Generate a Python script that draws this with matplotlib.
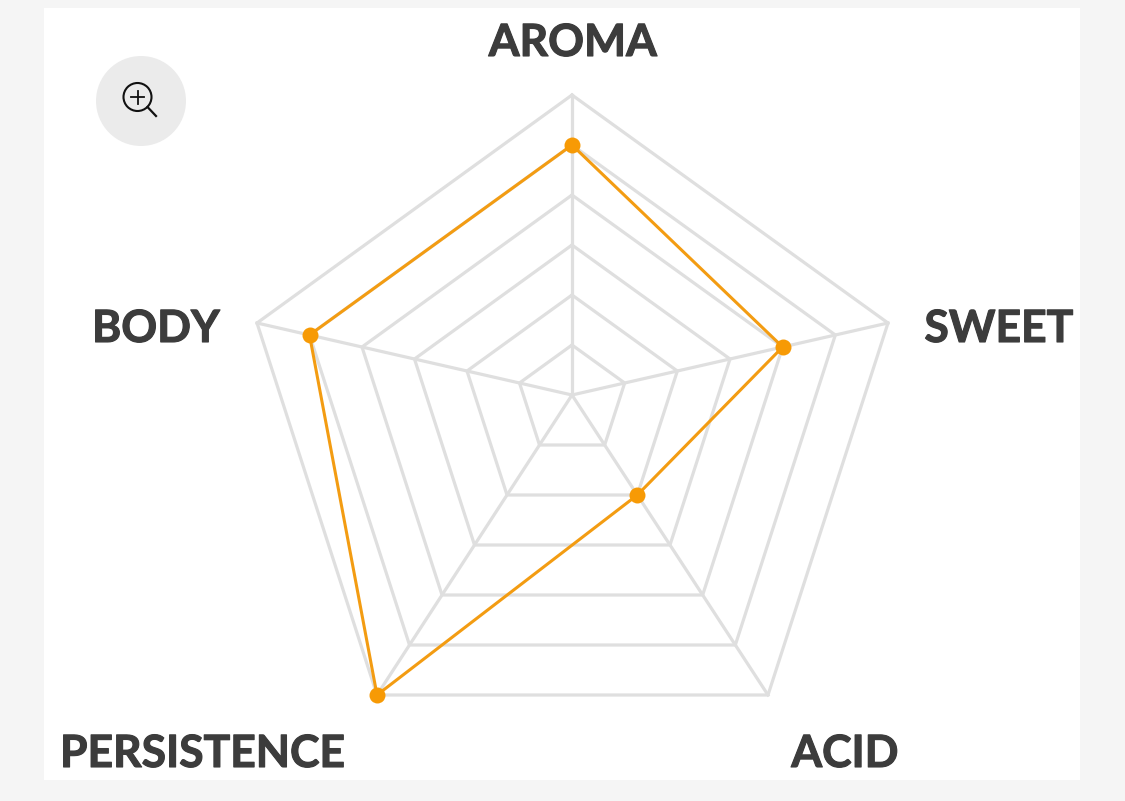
'''Pentagon radar chart of a tasting profile'''

import matplotlib
matplotlib.use("Agg")
import matplotlib.pyplot as plt
import matplotlib.patheffects as pe
from matplotlib.patches import Circle, Rectangle
import numpy as np

categories = ["AROMA", "SWEET", "ACID", "PERSISTENCE", "BODY"]
values = [5, 4, 2, 6, 5]
levels = [1, 2, 3, 4, 5, 6]

# layout: pixel position of the centre and of each axis tip at the top level
centre = np.array([572.0, 395.0])
tips = np.array([[572, 95], [888, 323], [768, 695], [377, 695], [257, 323]], dtype=float)
label_pos = [(573, 43), (999, 329), (845, 754), (203, 754), (156, 329)]

def to_xy(vals):
    vals = np.asarray(vals, dtype=float)[:, None]
    return centre + (tips - centre) * vals / max(levels)

fig = plt.figure(figsize=(11.25, 8.01), dpi=100, facecolor="#f5f5f5")
ax = fig.add_axes([0, 0, 1, 1])
ax.set_xlim(0, 1125)
ax.set_ylim(801, 0)
ax.axis("off")

ax.add_patch(Rectangle((44, 8), 1036, 772, fc="white", ec="none", zorder=0))

# grid
grid_col = "#dfdfdf"
for tip in tips:
    ax.plot([centre[0], tip[0]], [centre[1], tip[1]], color=grid_col, lw=2.3, zorder=1)
for lev in levels:
    ring = to_xy([lev] * len(categories))
    ring = np.vstack([ring, ring[0]])
    ax.plot(ring[:, 0], ring[:, 1], color=grid_col, lw=2.3, zorder=1, solid_joinstyle="miter")

# series
pts = to_xy(values)
closed = np.vstack([pts, pts[0]])
ax.plot(closed[:, 0], closed[:, 1], color="#f39c12", lw=2.2, zorder=3)
ax.plot(pts[:, 0], pts[:, 1], "o", color="#f79a05", ms=11.5, mew=0, zorder=4)

# labels
for name, (x, y) in zip(categories, label_pos):
    ax.text(x, y, name, family="Lato", weight="bold", fontsize=32, color="#3c3c3c",
            ha="center", va="center", zorder=5,
            path_effects=[pe.withStroke(linewidth=0.8, foreground="#3c3c3c")])

# zoom button
ax.add_patch(Circle((141, 101), 45, fc="#ebebeb", ec="none", zorder=2))
ax.add_patch(Circle((137.5, 97), 14, fc="none", ec="#111111", lw=1.5, zorder=3))
ax.plot([131, 144], [97, 97], color="#111111", lw=1.3, zorder=3)
ax.plot([137.5, 137.5], [90.5, 103.5], color="#111111", lw=1.3, zorder=3)
ax.plot([147.5, 156], [107, 116], color="#111111", lw=1.6, zorder=3)

fig.savefig("out.png", dpi=100, facecolor=fig.get_facecolor())
